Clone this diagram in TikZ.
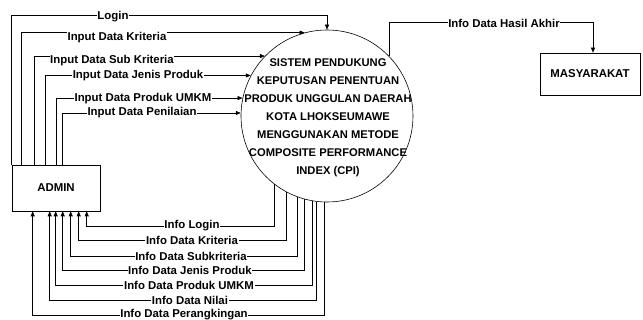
\documentclass[tikz,border=0pt]{standalone}
\usepackage{fontspec}
\setmainfont{Liberation Sans}
\usetikzlibrary{arrows.meta,calc}
\begin{document}
\begin{tikzpicture}[x=1pt,y=-1pt,
  lbl/.style={fill=white,inner sep=0.6pt,font=\bfseries\fontsize{11.4}{13}\selectfont},
  flow/.style={draw,line width=0.6pt,-{Triangle[length=5pt,width=4pt]}},
  ent/.style={draw,line width=0.6pt,minimum width=88pt,minimum height=46pt,font=\bfseries\fontsize{11.4}{13}\selectfont}]
\useasboundingbox (0,0) rectangle (643,320);
\node[ent] (admin) at (56,188) {ADMIN};
\node[ent,minimum width=100pt,minimum height=42pt] (mas) at (590,74) {MASYARAKAT};
\node[draw,circle,minimum size=172pt,inner sep=0pt,line width=0.6pt] (sys) at (327,116) {};
\node[align=center,font=\bfseries\fontsize{11.2}{18}\selectfont] (systxt) at (328,118) {SISTEM PENDUKUNG\\KEPUTUSAN PENENTUAN\\PRODUK UNGGULAN DAERAH\\KOTA LHOKSEUMAWE\\MENGGUNAKAN METODE\\COMPOSITE PERFORMANCE\\INDEX (CPI)};
% inputs
\draw[flow] (admin.north west) -- ([yshift=149pt]admin.north west) -| (sys.north);
\node[lbl] (l1) at (113,17) {Login};
\draw[flow] ([xshift=10pt]admin.north west) |- (sys.105.2);
\node[lbl] (l2) at (117,38) {Input Data Kriteria};
\draw[flow] ([xshift=23pt]admin.north west) |- (sys.136.7);
\node[lbl] (l3) at (112,61) {Input Data Sub Kriteria};
\draw[flow] ([xshift=34pt]admin.north west) |- (sys.152.3);
\node[lbl] (l4) at (138,76) {Input Data Jenis Produk};
\draw[flow] ([xshift=45pt]admin.north west) |- (sys.168.6);
\node[lbl] (l5) at (143,99) {Input Data Produk UMKM};
\draw[flow] ([xshift=51pt]admin.north west) |- (sys.178);
\node[lbl] (l6) at (142,113) {Input Data Penilaian};
% outputs
\draw[flow] (sys.232.8) |- ([xshift=75pt,yshift=-15pt]admin.south west) -- ([xshift=75pt]admin.south west);
\node[lbl] (o1) at (192,226) {Info Login};
\draw[flow] (sys.242.3) |- ([xshift=67pt,yshift=-29pt]admin.south west) -- ([xshift=67pt]admin.south west);
\node[lbl] (o2) at (192,240) {Info Data Kriteria};
\draw[flow] (sys.250.3) |- ([xshift=59pt,yshift=-45pt]admin.south west) -- ([xshift=59pt]admin.south west);
\node[lbl] (o3) at (191,256) {Info Data Subkriteria};
\draw[flow] (sys.255.2) |- ([xshift=51pt,yshift=-59pt]admin.south west) -- ([xshift=51pt]admin.south west);
\node[lbl] (o4) at (190,270) {Info Data Jenis Produk};
\draw[flow] (sys.260.0) |- ([xshift=44pt,yshift=-74pt]admin.south west) -- ([xshift=44pt]admin.south west);
\node[lbl] (o5) at (189,285) {Info Data Produk UMKM};
\draw[flow] (sys.263.3) |- ([xshift=38pt,yshift=-89pt]admin.south west) -- ([xshift=38pt]admin.south west);
\node[lbl] (o6) at (190,300) {Info Data Nilai};
\draw[flow] (sys.268.0) |- ([xshift=21pt,yshift=-104pt]admin.south west) -- ([xshift=21pt]admin.south west);
\node[lbl] (o7) at (184,314.5) {Info Data Perangkingan};
% to masyarakat
\draw[flow] (sys.44.8) |- ([xshift=3pt,yshift=30pt]mas.north) -- ([xshift=3pt]mas.north);
\node[lbl] (h1) at (504,23) {Info Data Hasil Akhir};
\end{tikzpicture}
\end{document}
